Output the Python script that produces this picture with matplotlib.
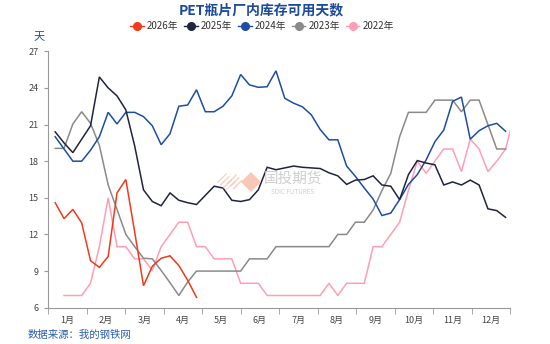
import matplotlib
matplotlib.use("Agg")
import matplotlib.pyplot as plt  # noqa: E402
from matplotlib.lines import Line2D  # noqa: E402
from matplotlib.patches import Polygon  # noqa: E402
import numpy as np  # noqa: E402

plt.rcParams["font.family"] = ["Noto Sans CJK SC", "DejaVu Sans"]

months = [f"{m}月" for m in range(1, 13)]

# weekly values, week index starts at 0 for the first week of the year
v2026 = [14.6, 13.3, 14.05, 12.95, 9.85, 9.3, 10.2, 15.4, 16.5, 12.2, 7.8,
         9.4, 10.05, 10.25, 9.45, 8.25, 6.85]
v2025 = [20.4, 19.5, 18.7, 19.8, 20.9, 24.9, 24.0, 23.35, 22.2, 19.25, 15.65,
         14.7, 14.35, 15.4, 14.8, 14.6, 14.45, 15.2, 15.95, 15.8, 14.8, 14.7,
         14.85, 15.65, 17.5, 17.3, 17.45, 17.6, 17.5, 17.45, 17.4, 17.05, 16.8,
         16.1, 16.45, 16.5, 16.8, 16.05, 15.95, 14.85, 16.9, 18.05, 17.85, 17.7,
         16.05, 16.3, 16.05, 16.45, 16.05, 14.1, 13.95, 13.4]
v2024 = [20.0, 19.0, 18.0, 18.0, 18.9, 20.0, 22.0, 21.05, 22.0, 22.0, 21.65,
         20.9, 19.35, 20.25, 22.5, 22.6, 23.85, 22.05, 22.05, 22.5, 23.35, 25.1,
         24.25, 24.05, 24.1, 25.4, 23.15, 22.75, 22.45, 21.8, 20.6, 19.75, 19.75,
         17.6, 16.75, 15.8, 14.9, 13.55, 13.75, 14.85, 16.1, 16.9, 18.1, 19.6,
         20.55, 22.9, 23.25, 19.8, 20.5, 20.9, 21.1, 20.45]
v2023 = [19.05, 19.05, 21.05, 22.05, 21.1, 19.3, 16.05, 14.05, 12.0, 11.0,
         10.05, 10.0, 9.05, 8.05, 7.0, 8.1, 9.0, 9.0, 9.0, 9.0, 9.0, 9.0, 10.0,
         10.0, 10.0, 11.0, 11.0, 11.0, 11.0, 11.0, 11.0, 11.0, 12.0, 12.0, 13.0,
         13.0, 14.0, 15.6, 17.0, 20.0, 22.0, 22.0, 22.0, 23.0, 23.0, 23.0, 22.05,
         23.0, 23.0, 21.0, 19.0, 19.0]
# 2022 starts one week later and has 53 weeks
v2022 = [7.0, 7.0, 7.0, 8.0, 11.0, 15.0, 11.0, 11.0, 10.0, 10.0, 9.05, 11.0,
         12.0, 13.0, 13.0, 11.0, 11.0, 10.0, 10.0, 10.0, 8.0, 8.0, 8.0, 7.0, 7.0,
         7.0, 7.0, 7.0, 7.0, 7.0, 8.0, 7.0, 8.0, 8.0, 8.0, 11.0, 11.0, 12.0,
         13.0, 15.6, 18.0, 17.0, 18.0, 19.0, 19.0, 17.15, 19.8, 19.0, 17.15,
         18.0, 19.0, 21.8]
start2022 = 1

series = [
    ("2026年", v2026, 0, "#f2391c"),
    ("2025年", v2025, 0, "#20243f"),
    ("2024年", v2024, 0, "#1d4ea3"),
    ("2023年", v2023, 0, "#8a8a8a"),
    ("2022年", v2022, start2022, "#ff9eb5"),
]

W, H = 550, 344
fig = plt.figure(figsize=(W / 100, H / 100), dpi=100)
ax = fig.add_axes([48 / W, (H - 307.7) / H, 462 / W, 256.4 / H])

handles = []
for name, vals, start, color in reversed(series):
    x = np.arange(start, start + len(vals))
    ax.plot(x, vals, color=color, lw=1.1, solid_joinstyle="miter")
for name, vals, start, color in series:
    handles.append(Line2D([], [], color=color, lw=1.0, marker="o",
                          markersize=5.5, label=name))

x0, x1 = -0.815, 51.5
ax.set_xlim(x0, x1)
ax.set_ylim(6, 27)
ax.set_yticks(range(6, 28, 3))
edges = np.linspace(x0, x1, 13)
ax.set_xticks((edges[:-1] + edges[1:]) / 2)
ax.set_xticklabels(months)
ax.set_xticks(edges, minor=True)
ax.tick_params(axis="x", which="major", length=0, pad=6, labelsize=6.5,
               labelcolor="#444444")
ax.tick_params(axis="x", which="minor", length=4, color="#999999")
ax.tick_params(axis="y", length=3, color="#999999", labelsize=6.5,
               labelcolor="#444444", pad=4)
for s in ["top", "right"]:
    ax.spines[s].set_visible(False)
for s in ["left", "bottom"]:
    ax.spines[s].set_color("#999999")
    ax.spines[s].set_linewidth(0.8)

fig.text(261 / W, 1 - 10 / H, "PET瓶片厂内库存可用天数", ha="center",
         va="center", fontsize=10, fontweight="bold", color="#1b4a9e")
fig.legend(handles=handles, loc="center", bbox_to_anchor=(262 / W, 1 - 26 / H),
           ncol=5, frameon=False, fontsize=7, handlelength=1.4,
           handletextpad=0.3, columnspacing=0.6, labelcolor="#333333")
fig.text(39 / W, 1 - 37 / H, "天", ha="center", va="center", fontsize=8,
         color="#1d4ea3")
fig.text(28 / W, 1 - 335 / H, "数据来源：我的钢铁网", ha="left", va="center",
         fontsize=7.5, color="#2b5db0")

# watermark
dia = lambda cx, cy, r: [((cx - r) / W, 1 - cy / H), (cx / W, 1 - (cy - r) / H),
                         ((cx + r) / W, 1 - cy / H), (cx / W, 1 - (cy + r) / H)]
fig.patches.append(Polygon(dia(251, 182, 10), closed=True, transform=fig.transFigure,
                           facecolor="#f8b9a6", edgecolor="none", alpha=0.8))
for cx in (226, 235):
    fig.patches.append(Polygon(dia(cx, 182, 9), closed=True, transform=fig.transFigure,
                               facecolor="none", edgecolor="#f9c4b4", hatch="//////",
                               lw=0, alpha=0.8))
fig.text(293 / W, 1 - 179 / H, "国投期货", ha="center", va="center", fontsize=10.5,
         color="#cfcfcf")
fig.text(293 / W, 1 - 192 / H, "SDIC FUTURES", ha="center", va="center",
         fontsize=4.5, color="#cfcfcf")

fig.savefig("out.png", dpi=100)
